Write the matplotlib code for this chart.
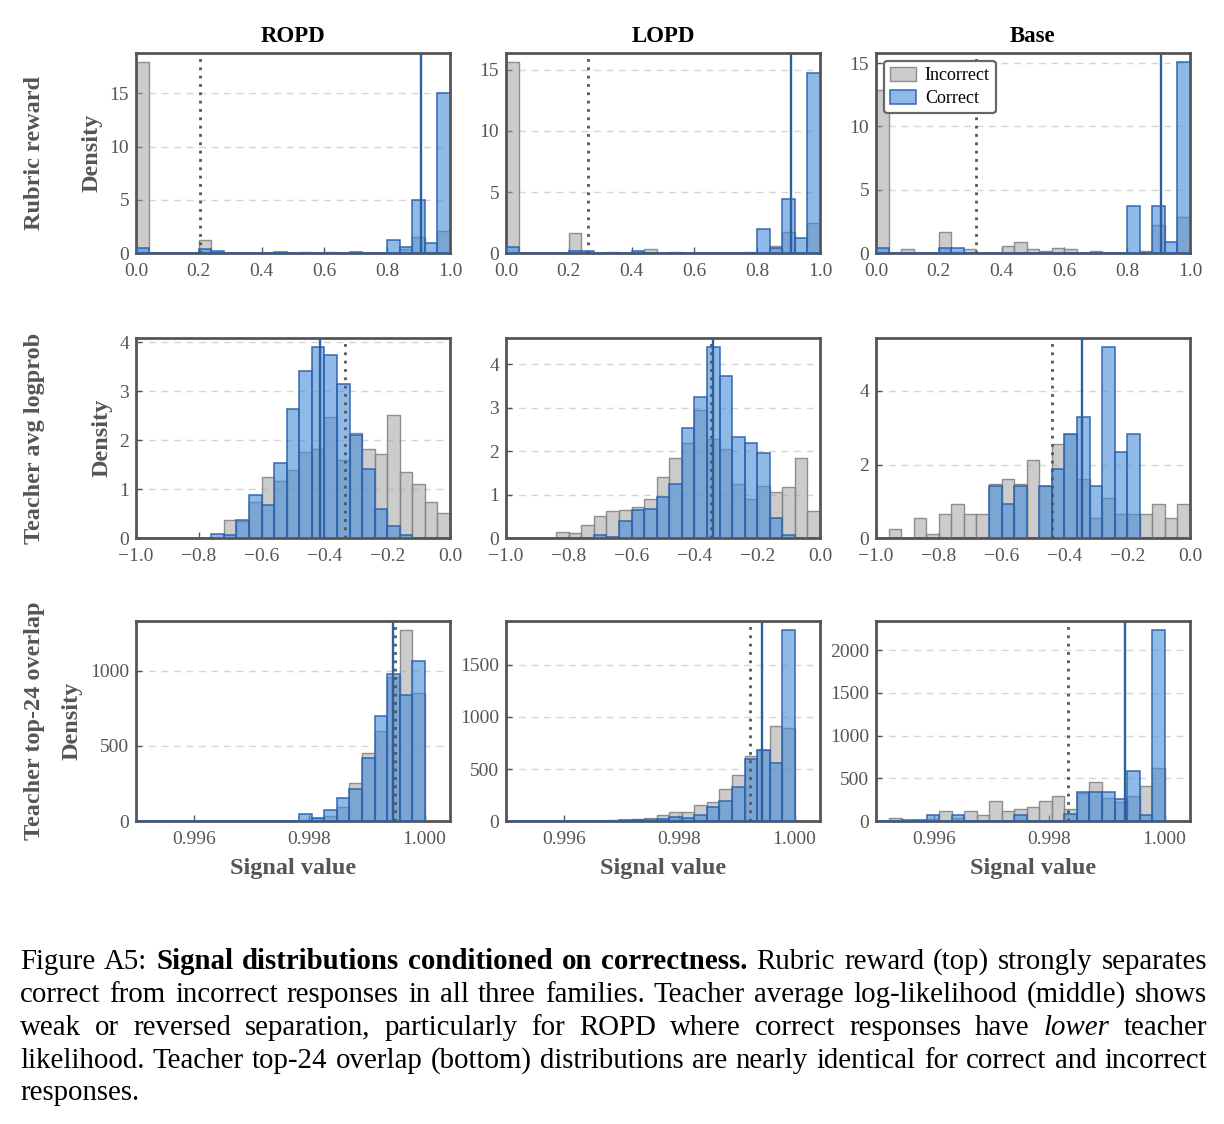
import numpy as np
import matplotlib
matplotlib.use('Agg')
import matplotlib.pyplot as plt
from matplotlib.ticker import FuncFormatter

plt.rcParams['font.family'] = ['Liberation Serif', 'DejaVu Serif']

# ---------------------------------------------------------------------------
# Dados
# ---------------------------------------------------------------------------
FAMILIES = ['ROPD', 'LOPD', 'Base']
SIGNALS = ['Rubric reward', 'Teacher avg logprob', 'Teacher top-24 overlap']
CLASS_LABELS = ['Incorrect', 'Correct']

# bordas dos bins (25 bins por painel)
RUBRIC_BINS = np.linspace(0.0, 1.0, 26)
LOGPROB_BINS = np.linspace(-1.0, 0.0, 26)
OVERLAP_BINS = np.linspace(0.994575, 1.0, 26)

# Rubric reward
RUBRIC_INC = {
    'ROPD': [17.9, 0, 0.05, 0, 0, 1.2, 0.1, 0.05, 0.05, 0.05, 0.05, 0.05, 0,
             0.08, 0.05, 0.1, 0.05, 0.05, 0, 0, 0.05, 0.4, 1.5, 0.1, 2.1],
    'LOPD': [15.6, 0, 0.05, 0, 0, 1.63, 0, 0, 0.1, 0, 0.1, 0.38, 0,
             0.1, 0, 0.05, 0, 0, 0, 0.1, 0, 0.6, 1.7, 0, 2.5],
    'Base': [12.9, 0, 0.3, 0, 0.05, 1.65, 0.1, 0.3, 0, 0, 0.57, 0.86, 0.3,
             0.2, 0.44, 0.3, 0, 0.18, 0, 0, 0, 0.2, 2.2, 0, 2.9],
}
RUBRIC_COR = {
    'ROPD': [0.5, 0, 0, 0, 0, 0.4, 0.25, 0.05, 0.05, 0.05, 0, 0.1, 0.05,
             0, 0, 0.05, 0.05, 0.1, 0, 0, 1.25, 0.62, 4.97, 0.96, 15.06],
    'LOPD': [0.5, 0, 0.05, 0, 0, 0.2, 0.15, 0, 0, 0, 0.15, 0, 0.05,
             0.05, 0, 0.05, 0, 0, 0.05, 0, 2.0, 0.4, 4.4, 1.25, 14.7],
    'Base': [0.4, 0, 0, 0, 0, 0.4, 0.4, 0, 0, 0, 0, 0, 0,
             0, 0, 0, 0, 0, 0, 0, 3.7, 0, 3.7, 0.9, 15.06],
}

# Teacher avg logprob
LOGPROB_INC = {
    'ROPD': [0, 0, 0, 0, 0, 0, 0, 0.37, 0.35, 0.74, 1.26, 1.16, 1.40,
             1.77, 1.82, 2.48, 1.59, 2.15, 1.82, 1.72, 2.51, 1.35, 1.11, 0.74, 0.51],
    'LOPD': [0, 0, 0, 0, 0.15, 0.12, 0.3, 0.52, 0.63, 0.66, 0.71, 0.91, 1.4,
             1.84, 2.19, 2.94, 2.28, 2.05, 1.25, 0.91, 1.21, 1.06, 1.18, 1.84, 0.62],
    'Base': [0, 0.25, 0, 0.54, 0.12, 0.65, 0.92, 0.65, 0.65, 1.46, 1.6, 1.46, 2.13,
             1.41, 2.56, 2.83, 1.61, 0.54, 1.08, 0.65, 0.65, 0.65, 0.92, 0.54, 0.92],
}
LOGPROB_COR = {
    'ROPD': [0, 0, 0, 0, 0, 0, 0.08, 0.07, 0.37, 0.89, 0.67, 1.54, 2.63,
             3.42, 3.9, 3.75, 3.15, 2.1, 1.42, 0.59, 0.26, 0.07, 0, 0, 0],
    'LOPD': [0, 0, 0, 0, 0, 0, 0, 0.07, 0.04, 0.39, 0.64, 0.67, 0.95,
             1.25, 2.53, 3.24, 4.39, 3.72, 2.33, 2.18, 1.97, 0.47, 0.08, 0, 0],
    'Base': [0, 0, 0, 0, 0, 0, 0, 0, 0, 1.41, 0.94, 1.41, 0,
             1.41, 1.88, 2.83, 3.3, 1.41, 5.18, 2.35, 2.83, 0, 0, 0, 0],
}

# Teacher top-24 overlap
OVERLAP_INC = {
    'ROPD': [0, 0, 0, 0, 0, 0, 0, 0, 0, 0, 0, 0, 0,
             0, 0, 10, 20, 37, 97, 253, 450, 602, 960, 1268, 850],
    'LOPD': [0, 0, 2, 3, 3, 3, 3, 5, 5, 5, 10, 10, 20,
             35, 57, 92, 88, 158, 183, 306, 442, 622, 680, 909, 893],
    'Base': [0, 0, 0, 42, 0, 10, 30, 119, 40, 119, 69, 239, 119,
             139, 166, 239, 297, 143, 330, 462, 274, 227, 297, 412, 617],
}
OVERLAP_COR = {
    'ROPD': [0, 0, 0, 0, 0, 0, 0, 0, 0, 5, 0, 0, 5,
             0, 0, 50, 22, 77, 154, 213, 422, 697, 978, 835, 1061],
    'LOPD': [0, 0, 3, 5, 3, 3, 3, 5, 5, 5, 5, 10, 10,
             15, 20, 38, 32, 63, 136, 199, 331, 600, 685, 562, 1831],
    'Base': [0, 0, 0, 0, 10, 10, 77, 0, 73, 0, 0, 0, 0,
             77, 0, 0, 0, 85, 339, 339, 339, 258, 593, 77, 2231],
}

# médias (linhas verticais): pontilhada = incorrect, sólida = correct
INC_MEAN = {
    'Rubric reward': [0.205, 0.262, 0.317],
    'Teacher avg logprob': [-0.334, -0.348, -0.438],
    'Teacher top-24 overlap': [0.99949, 0.99922, 0.99833],
}
COR_MEAN = {
    'Rubric reward': [0.908, 0.907, 0.907],
    'Teacher avg logprob': [-0.414, -0.340, -0.343],
    'Teacher top-24 overlap': [0.99945, 0.99944, 0.99932],
}

XTICKS = {
    'Rubric reward': [0.0, 0.2, 0.4, 0.6, 0.8, 1.0],
    'Teacher avg logprob': [-1.0, -0.8, -0.6, -0.4, -0.2, 0.0],
    'Teacher top-24 overlap': [0.996, 0.998, 1.000],
}
YTICKS = {
    'Rubric reward': [[0, 5, 10, 15], [0, 5, 10, 15], [0, 5, 10, 15]],
    'Teacher avg logprob': [[0, 1, 2, 3, 4], [0, 1, 2, 3, 4], [0, 2, 4]],
    'Teacher top-24 overlap': [[0, 500, 1000], [0, 500, 1000, 1500],
                               [0, 500, 1000, 1500, 2000]],
}

CAPTION_LINES = [
    [("Figure A5:", 'normal', 'normal'),
     ("Signal distributions conditioned on correctness.", 'bold', 'normal'),
     ("Rubric reward (top) strongly separates", 'normal', 'normal')],
    [("correct from incorrect responses in all three families. Teacher average "
      "log-likelihood (middle) shows", 'normal', 'normal')],
    [("weak or reversed separation, particularly for ROPD where correct responses have",
      'normal', 'normal'),
     ("lower", 'normal', 'italic'),
     ("teacher", 'normal', 'normal')],
    [("likelihood. Teacher top-24 overlap (bottom) distributions are nearly identical "
      "for correct and incorrect", 'normal', 'normal')],
    [("responses.", 'normal', 'normal')],
]

# ---------------------------------------------------------------------------
# Estilo / layout (pixels)
# ---------------------------------------------------------------------------
FIG_W, FIG_H = 1224, 1124
COL_LEFT = [136, 506, 876]
AX_W = 314
ROW_TOP = [52.7, 337.7, 620.7]
AX_H = 200.6

GRAY_FACE = (0.64, 0.64, 0.64, 0.55)
GRAY_EDGE = (0.52, 0.52, 0.52, 0.9)
BLUE_FACE = (0.27, 0.55, 0.85, 0.60)
BLUE_EDGE = (0.17, 0.38, 0.68, 0.95)
SPINE_COLOR = '#555555'
TEXT_GRAY = '#555555'

CAPTION_SIZE = 20.8
CAP_LEFT, CAP_RIGHT = 20, 1207
CAP_BASELINES = [969, 1002, 1035, 1067.5, 1100]

BINS = {'Rubric reward': RUBRIC_BINS, 'Teacher avg logprob': LOGPROB_BINS,
        'Teacher top-24 overlap': OVERLAP_BINS}
INC = {'Rubric reward': RUBRIC_INC, 'Teacher avg logprob': LOGPROB_INC,
       'Teacher top-24 overlap': OVERLAP_INC}
COR = {'Rubric reward': RUBRIC_COR, 'Teacher avg logprob': LOGPROB_COR,
       'Teacher top-24 overlap': OVERLAP_COR}
XLIMS = {'Rubric reward': (0.0, 1.0), 'Teacher avg logprob': (-1.0, 0.0),
         'Teacher top-24 overlap': (0.995, 1.00044)}


def tick_fmt(decimals):
    return FuncFormatter(lambda v, pos: f"{v:.{decimals}f}".replace('-', '\u2212'))


def draw_caption(fig, renderer):
    for runs, base in zip(CAPTION_LINES, CAP_BASELINES):
        pieces = []
        for text, weight, style in runs:
            for word in text.split():
                t = fig.text(0, 1 - base / FIG_H, word, fontsize=CAPTION_SIZE,
                             fontweight=weight, fontstyle=style, color='black',
                             ha='left', va='baseline')
                pieces.append(t)
        widths = [t.get_window_extent(renderer).width for t in pieces]
        if len(pieces) > 1:
            gap = (CAP_RIGHT - CAP_LEFT - sum(widths)) / (len(pieces) - 1)
        else:
            gap = 0
        x = CAP_LEFT
        for t, w in zip(pieces, widths):
            t.set_x(x / FIG_W)
            x += w + gap


def main():
    fig = plt.figure(figsize=(FIG_W / 100, FIG_H / 100), dpi=100)

    for r, signal in enumerate(SIGNALS):
        edges = BINS[signal]
        for c, fam in enumerate(FAMILIES):
            ax = fig.add_axes([COL_LEFT[c] / FIG_W, 1 - (ROW_TOP[r] + AX_H) / FIG_H,
                               AX_W / FIG_W, AX_H / FIG_H])
            ax.bar(edges[:-1], INC[signal][fam], width=np.diff(edges), align='edge',
                   facecolor=GRAY_FACE, edgecolor=GRAY_EDGE, linewidth=1.0,
                   label=CLASS_LABELS[0], zorder=2)
            ax.bar(edges[:-1], COR[signal][fam], width=np.diff(edges), align='edge',
                   facecolor=BLUE_FACE, edgecolor=BLUE_EDGE, linewidth=1.1,
                   label=CLASS_LABELS[1], zorder=3)
            ax.axvline(INC_MEAN[signal][c], color='#555555', ls=(0, (1, 2)),
                       lw=2.0, zorder=4)
            ax.axvline(COR_MEAN[signal][c], color='#2d5f9f', lw=1.7, zorder=5)

            ax.set_xlim(*XLIMS[signal])
            ax.set_xticks(XTICKS[signal])
            ax.set_yticks(YTICKS[signal][c])
            if signal == 'Teacher top-24 overlap':
                ax.xaxis.set_major_formatter(tick_fmt(3))
            else:
                ax.xaxis.set_major_formatter(tick_fmt(1))

            ax.yaxis.grid(True, ls=(0, (5, 4)), color='#d6d6d6', lw=1.0)
            ax.set_axisbelow(True)
            for s in ax.spines.values():
                s.set_color(SPINE_COLOR)
                s.set_linewidth(2.0)
            ax.tick_params(direction='in', length=4, width=1, color=SPINE_COLOR,
                           labelcolor=TEXT_GRAY, labelsize=14)
            ax.tick_params(axis='x', pad=7)
            ax.tick_params(axis='y', pad=5)

            if r == 0:
                ax.set_title(fam, fontsize=16.5, fontweight='bold', color='black', pad=8)
            if c == 0:
                ax.set_ylabel('Density', fontsize=17.5, fontweight='bold',
                              color=TEXT_GRAY, labelpad=5)
            if r == 2:
                ax.set_xlabel('Signal value', fontsize=17.5, fontweight='bold',
                              color=TEXT_GRAY, labelpad=7)
            if r == 0 and c == 2:
                leg = ax.legend(loc='upper left', fontsize=13, handlelength=1.4,
                                handleheight=0.8, handletextpad=0.5,
                                borderpad=0.35, labelspacing=0.3,
                                borderaxespad=0.45, fancybox=True, framealpha=1)
                leg.get_frame().set_edgecolor('#666666')
                leg.get_frame().set_linewidth(1.6)

        # rótulo da linha (sinal)
        yc = 1 - (ROW_TOP[r] + AX_H / 2) / FIG_H
        fig.text(35 / FIG_W, yc, signal, rotation=90, fontsize=17.5,
                 fontweight='bold', color=TEXT_GRAY, ha='center', va='center')

    renderer = fig.canvas.get_renderer()
    draw_caption(fig, renderer)

    fig.savefig('out.png', dpi=100)
    plt.close(fig)


if __name__ == '__main__':
    main()
